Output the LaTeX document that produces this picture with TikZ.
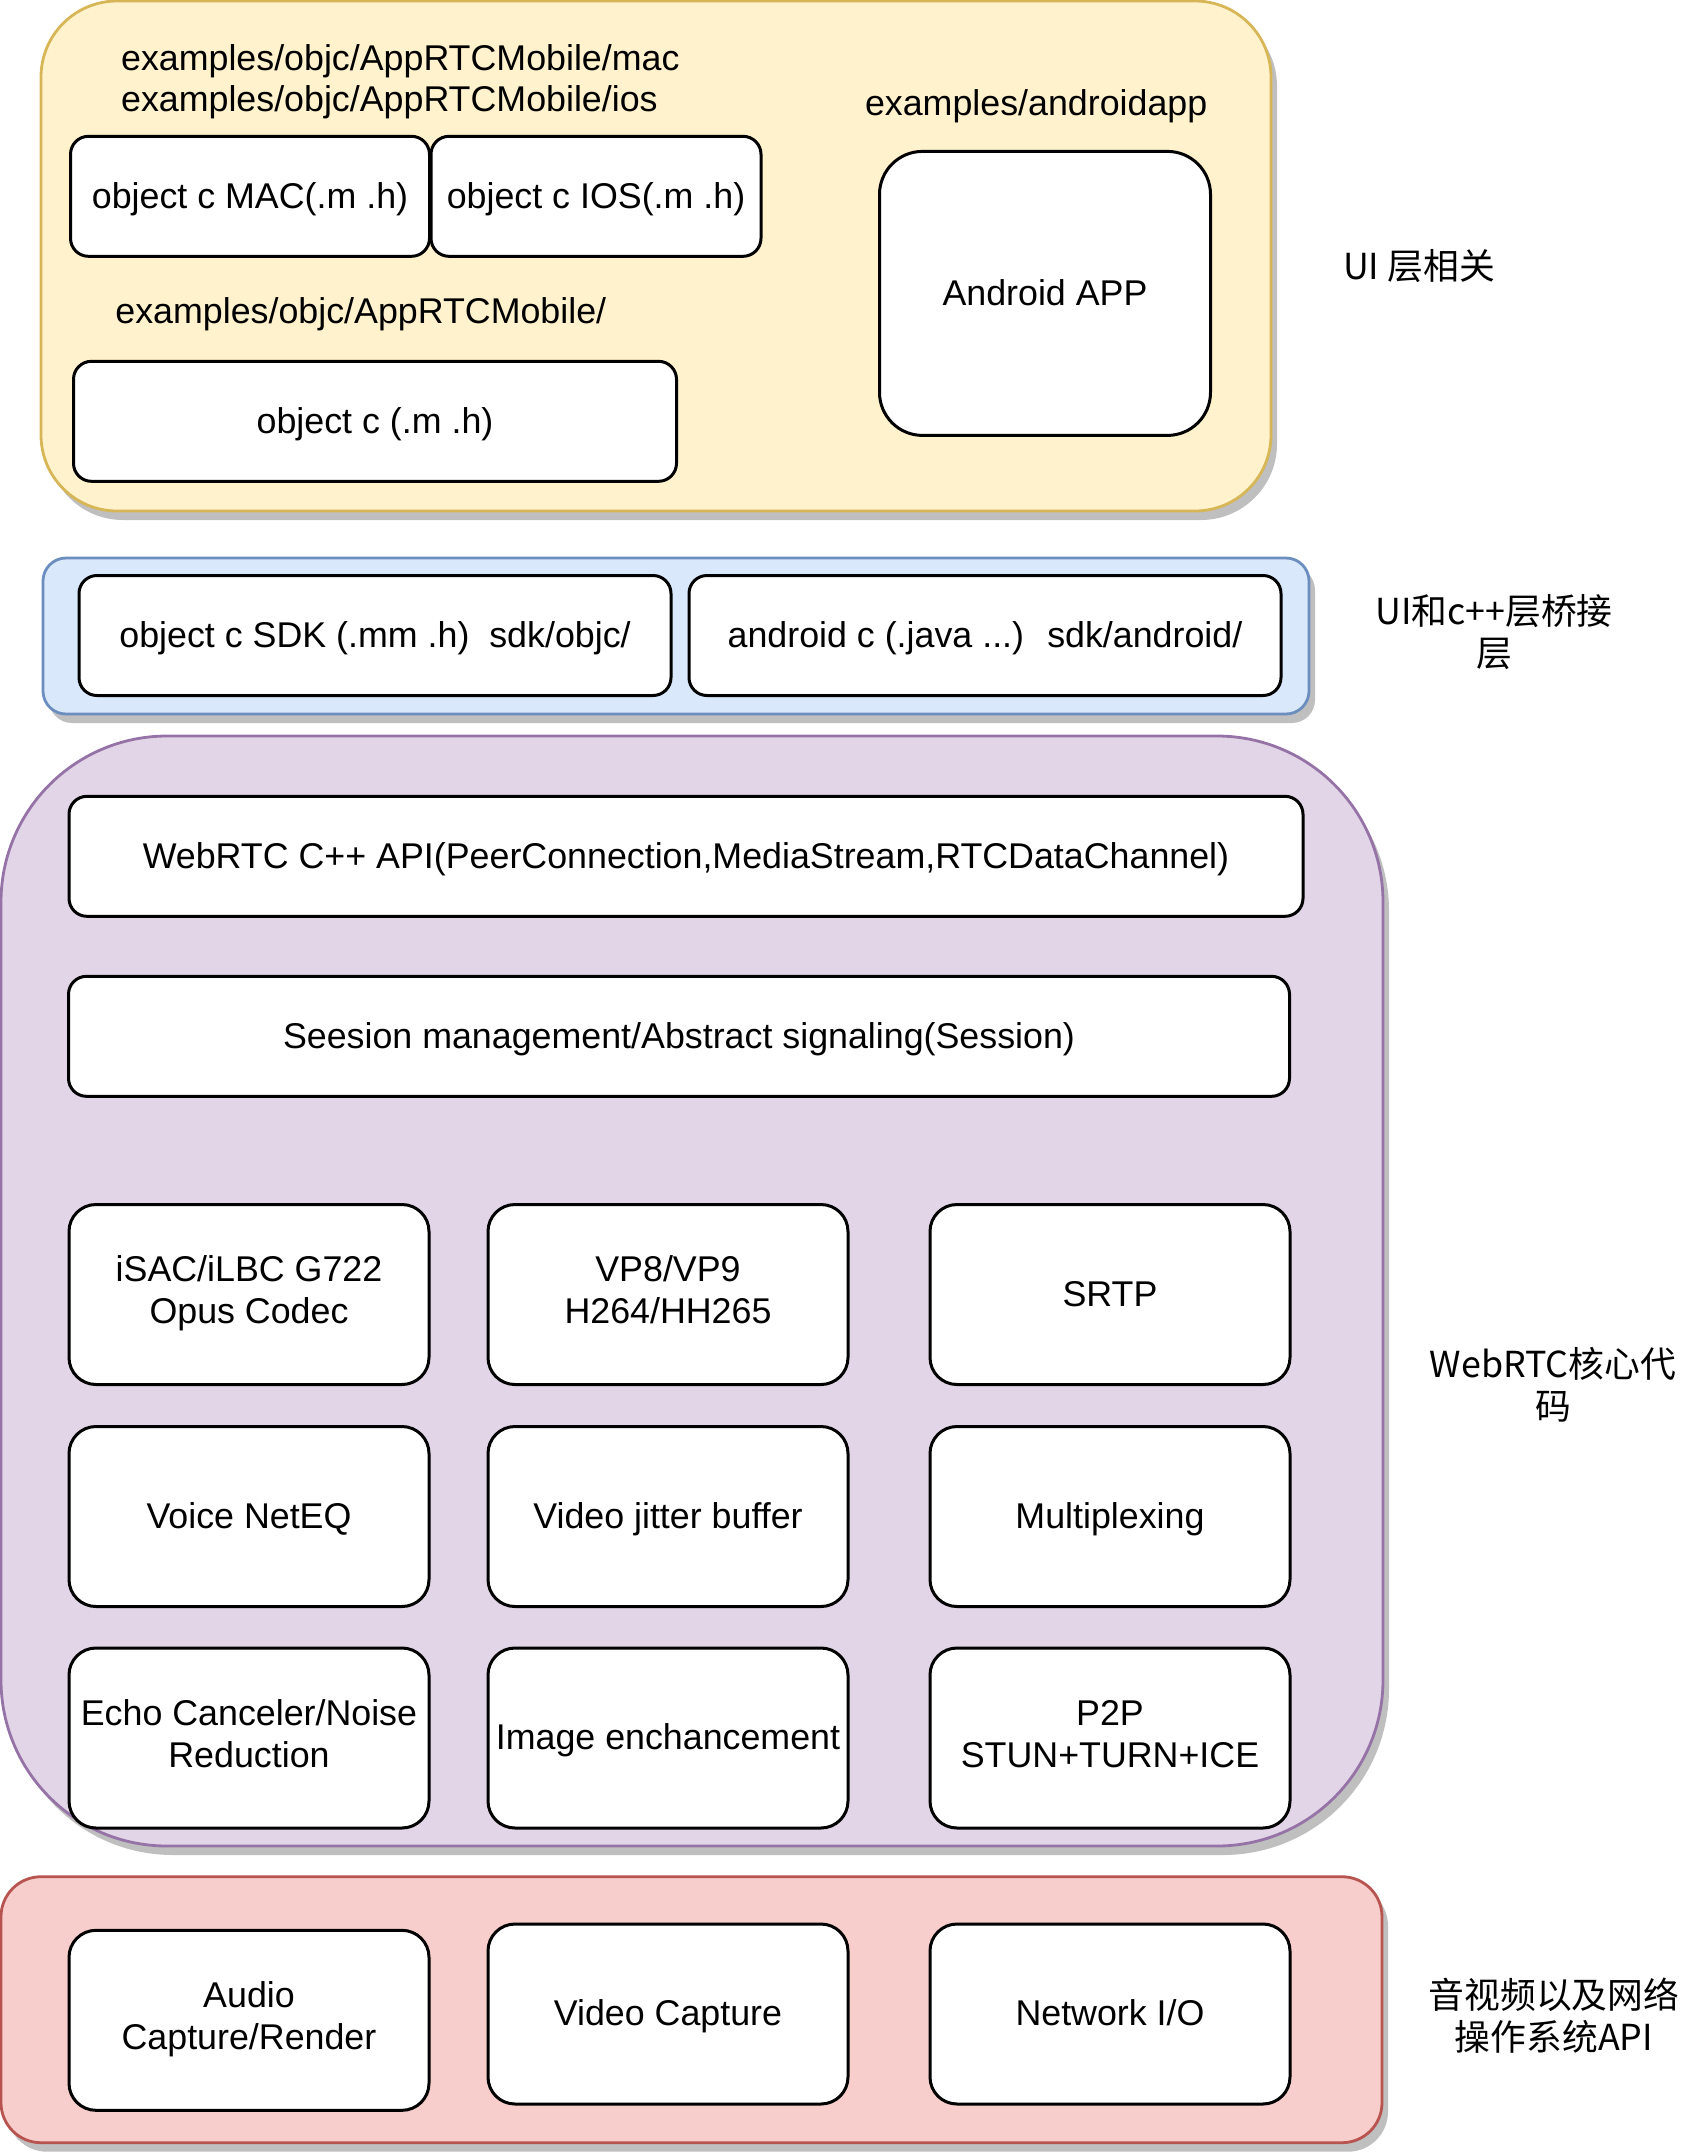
\documentclass[tikz,border=0pt]{standalone}
\usepackage{fontspec}
\setmainfont{Liberation Sans}
\newfontfamily\cjk{Noto Sans CJK SC}
\usepackage{tikz}
\newcommand*{\px}{0.5pt}
\newcommand*{\colA}{249}
\newcommand*{\colB}{668}
\newcommand*{\colC}{1110}
\newcommand*{\rowA}{1294.5}
\newcommand*{\rowB}{1516.5}
\newcommand*{\rowC}{1738}
\usetikzlibrary{positioning}
\usetikzlibrary{shadows}
\definecolor{uiFill}{HTML}{FFF2CC}
\definecolor{uiDraw}{HTML}{D6B656}
\definecolor{sdkFill}{HTML}{DAE8FC}
\definecolor{sdkDraw}{HTML}{6C8EBF}
\definecolor{coreFill}{HTML}{E1D5E7}
\definecolor{coreDraw}{HTML}{9673A6}
\definecolor{osFill}{HTML}{F8CECC}
\definecolor{osDraw}{HTML}{B85450}
\tikzset{
  tier/.style={% the big coloured layers
    line width=1.4pt,
    drop shadow={shadow xshift=3pt,shadow yshift=-4.5pt,fill=black!25,opacity=1}
  },
  block/.style={% white boxes inside a layer
    draw,
    fill=white,
    line width=1.5pt,
    align=center,
    inner sep=2pt,
    font=\fontsize{17.9pt}{21pt}\selectfont,
    execute at begin node={\rule{0pt}{16.3pt}},% same line box for every text
    execute at end node={\rule[-4.5pt]{0pt}{0pt}}
  },
  bar/.style={block, minimum height=120*\px, rounded corners=18*\px},
  cell/.style={block, minimum width=360*\px, minimum height=180*\px, rounded corners=27*\px},
  caption/.style={inner sep=0pt, anchor=base west, font=\fontsize{17.9pt}{21pt}\selectfont},
  sidenote/.style={inner sep=0pt, align=center, font=\cjk\fontsize{17.9pt}{21pt}\selectfont}
}
\begin{document}
\begin{tikzpicture}[x=\px,y=-\px]
    \useasboundingbox (0,0) rectangle (1698,2154);
    % UI layer
    \node[tier, fill=uiFill, draw=uiDraw, minimum width=1230*\px, minimum height=510*\px, rounded corners=76*\px] (ui) at (656,256) {};
    \node[caption] (macpath) at (120.7,70) {examples/objc/AppRTCMobile/mac};
    \node[caption] (iospath) at (120.7,111) {examples/objc/AppRTCMobile/ios};
    \node[bar, minimum width=359*\px] (mac) at (250,196.3) {object c MAC(.m .h)};
    \node[bar, minimum width=330*\px] (ios) at (596,196.3) {object c IOS(.m .h)};
    \node[caption] (objcpath) at (115,323.5) {examples/objc/AppRTCMobile/};
    \node[bar, minimum width=603*\px] (objc) at (375,421.3) {object c (.m .h)};
    \node[caption] (apppath) at (864.6,115) {examples/androidapp};
    \node[block, minimum width=331*\px, minimum height=284*\px, rounded corners=43*\px] (app) at (1045,293.4) {Android APP};
    \node[sidenote] (uinote) at (1419,266) {UI 层相关};
    % bridge layer
    \node[tier, fill=sdkFill, draw=sdkDraw, minimum width=1266*\px, minimum height=156*\px, rounded corners=23*\px] (sdk) at (676,636) {};
    \node[bar, minimum width=592*\px] (sdkobjc) at (375,635.5) {object c SDK (.mm .h)~ sdk/objc/};
    \node[bar, minimum width=592*\px] (sdkandroid) at (985,635.5) {android c (.java ...)~ sdk/android/};
    \node[sidenote] (sdknote) at (1494,632.5) {UI和c++层桥接\\层};
    % webrtc core
    \node[tier, fill=coreFill, draw=coreDraw, minimum width=1382*\px, minimum height=1110*\px, rounded corners=166*\px] (core) at (692,1291) {};
    \node[bar, minimum width=1234*\px] (api) at (686,856.3) {WebRTC C++ API(PeerConnection,MediaStream,RTCDataChannel)};
    \node[bar, minimum width=1221*\px] (session) at (679,1036.3) {Seesion management/Abstract signaling(Session)};
    \node[cell] (voicecodec) at (\colA,\rowA) {iSAC/iLBC G722\\Opus Codec};
    \node[cell] (videocodec) at (\colB,\rowA) {VP8/VP9\\H264/HH265};
    \node[cell] (srtp) at (\colC,\rowA) {SRTP};
    \node[cell] (neteq) at (\colA,\rowB) {Voice NetEQ};
    \node[cell] (jitter) at (\colB,\rowB) {Video jitter buffer};
    \node[cell] (mux) at (\colC,\rowB) {Multiplexing};
    \node[cell] (echo) at (\colA,\rowC) {Echo Canceler/Noise\\Reduction};
    \node[cell] (image) at (\colB,\rowC) {Image enchancement};
    \node[cell] (p2p) at (\colC,\rowC) {P2P\\STUN+TURN+ICE};
    \node[sidenote] (corenote) at (1553,1384.6) {WebRTC核心代\\码};
    % os layer
    \node[tier, fill=osFill, draw=osDraw, minimum width=1381*\px, minimum height=266*\px, rounded corners=40*\px] (os) at (691.5,2009.7) {};
    \node[cell] (audio) at (\colA,2020.3) {Audio\\Capture/Render};
    \node[cell] (capture) at (\colB,2014) {Video Capture};
    \node[cell] (network) at (\colC,2014) {Network I/O};
    \node[sidenote] (osnote) at (1554,2016) {音视频以及网络\\操作系统API};
\end{tikzpicture}
\end{document}
